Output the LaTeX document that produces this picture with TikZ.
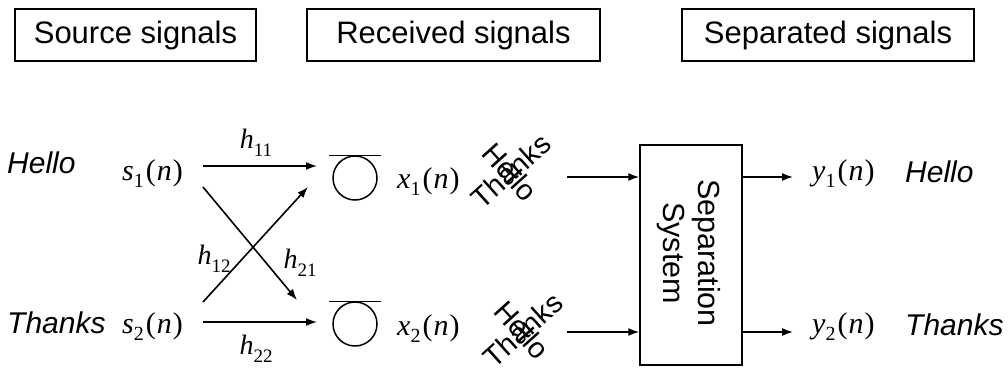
\documentclass[tikz,border=0pt]{standalone}
\usepackage{fontspec}
\setmainfont{Liberation Sans}
\newfontfamily\tnr{Liberation Serif}
\usetikzlibrary{arrows.meta}
\newcommand\mysig[3]{{\tnr\fontsize{30}{32}\selectfont\textit{#1}\raisebox{-0.26em}{\fontsize{20}{20}\selectfont #2}\kern2pt(\kern1pt\textit{#3}\kern1pt)}}
\newcommand\myh[1]{{\tnr\fontsize{28}{30}\selectfont\textit{h}\raisebox{-0.28em}{\fontsize{19}{19}\selectfont #1}}}
\begin{document}
\begin{tikzpicture}[x=1pt,y=-1pt,
  txt/.style={inner sep=0pt,font=\fontsize{30.5}{35}\selectfont},
  itxt/.style={inner sep=0pt,font=\fontsize{30}{34}\selectfont\itshape},
  hbox/.style={draw,line width=1.2pt,inner sep=0pt,minimum height=52pt,font=\fontsize{31}{35}\selectfont},
  arr/.style={line width=1.6pt,-{Latex[length=11pt,width=8pt]}},
  mix/.style={inner sep=0pt,font=\fontsize{29}{33}\selectfont},
  sensor/.style={draw,circle,line width=1.5pt,minimum size=44pt,inner sep=0pt},
  lab/.style={inner sep=0pt}]
\useasboundingbox (0,0) rectangle (1008,369);
% header boxes
\node[hbox,minimum width=241pt] (hsrc) at (135.5,35) {Source signals};
\node[hbox,minimum width=293pt] (hrec) at (453.5,35) {Received signals};
\node[hbox,minimum width=292pt] (hsep) at (828,35) {Separated signals};
% sources
\node[itxt,anchor=base west] (hello1) at (7,173) {Hello};
\node[itxt,anchor=base west] (thanks1) at (7,333) {Thanks};
\node[lab,anchor=base west] (s1) at (122,180) {\mysig{s}{1}{n}};
\node[lab,anchor=base west] (s2) at (122,333) {\mysig{s}{2}{n}};
% mixing coordinates
\coordinate (a1) at (203,166);
\coordinate (b1) at (317,166);
\coordinate (a2) at (203,322);
\coordinate (b2) at (317,322);
\coordinate (c1s) at (203,187);
\coordinate (c1e) at (297,300);
\coordinate (c2s) at (203,302);
\coordinate (c2e) at (308,187);
\draw[arr] (a1) -- (b1);
\draw[arr] (a2) -- (b2);
\draw[arr] (c1s) -- (c1e);
\draw[arr] (c2s) -- (c2e);
\node[lab] (h11) at (256,143) {\myh{11}};
\node[lab] (h22) at (256,349) {\myh{22}};
\node[lab] (h12) at (214,259) {\myh{12}};
\node[lab] (h21) at (300,263) {\myh{21}};
% sensors
\node[sensor] (m1) at (355,178) {};
\node[sensor] (m2) at (355,324) {};
\draw[line width=1.5pt] ([xshift=-26pt]m1.north) -- ([xshift=26pt]m1.north);
\draw[line width=1.5pt] ([xshift=-26pt]m2.north) -- ([xshift=26pt]m2.north);
\node[lab,anchor=base west] (x1) at (397,188) {\mysig{x}{1}{n}};
\node[lab,anchor=base west] (x2) at (397,335) {\mysig{x}{2}{n}};
% mixtures
\node[mix,rotate=-48] (mh1) at (510,172) {Hello};
\node[mix,rotate=42] (mt1) at (511,171) {Thanks};
\node[mix,rotate=-48] (mh2) at (522,330) {Hello};
\node[mix,rotate=42] (mt2) at (523,330) {Thanks};
% separation
\node[draw,line width=1.5pt,minimum width=102pt,minimum height=220pt,inner sep=0pt] (sys) at (691,255) {};
\node[txt,rotate=-90,align=center] (systxt) at (689,253) {Separation\\System};
\coordinate (i1) at (567,177);
\coordinate (i2) at (567,332);
\draw[arr] (i1) -- (i1 -| sys.west);
\draw[arr] (i2) -- (i2 -| sys.west);
\coordinate (o1) at (793,177);
\coordinate (o2) at (793,332);
\draw[arr] (o1 -| sys.east) -- (o1);
\draw[arr] (o2 -| sys.east) -- (o2);
\node[lab,anchor=base west] (y1) at (812,180) {\mysig{y}{1}{n}};
\node[lab,anchor=base west] (y2) at (812,333) {\mysig{y}{2}{n}};
\node[itxt,anchor=base west] (hello2) at (905,182) {Hello};
\node[itxt,anchor=base west] (thanks2) at (905,335) {Thanks};
\end{tikzpicture}
\end{document}
